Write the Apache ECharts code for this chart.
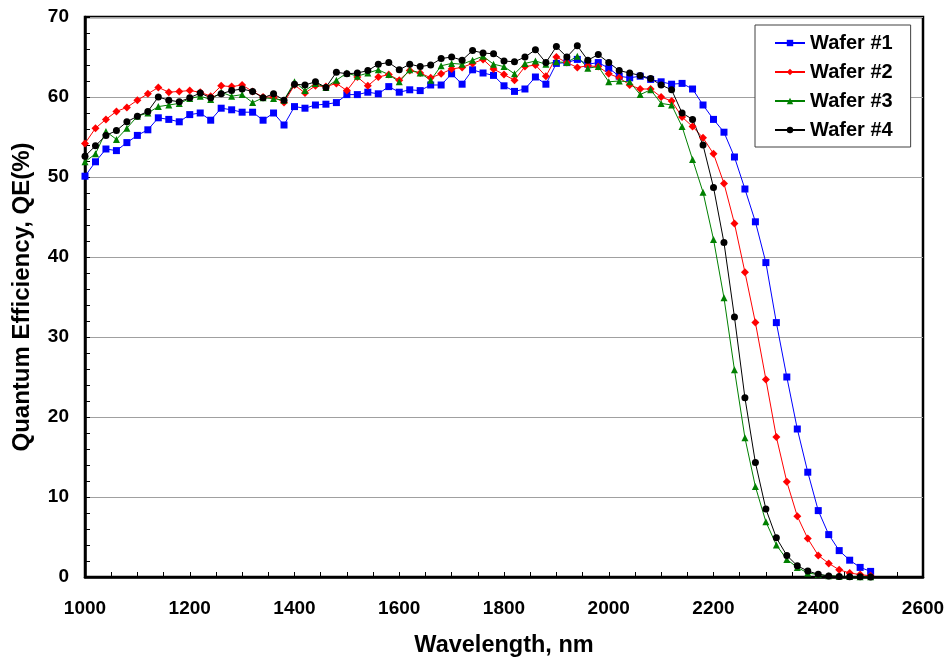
<!DOCTYPE html>
<html>
<head>
<meta charset="utf-8">
<script src="https://cdn.jsdelivr.net/npm/echarts@6/dist/echarts.min.js"></script>
<style>
html,body{margin:0;padding:0;background:#fff;}
#chart{width:950px;height:662px;}
</style>
</head>
<body>
<div id="chart"></div>
<script>
const wavelengths = [1000,1020,1040,1060,1080,1100,1120,1140,1160,1180,1200,1220,1240,1260,1280,1300,1320,1340,1360,1380,
1400,1420,1440,1460,1480,1500,1520,1540,1560,1580,1600,1620,1640,1660,1680,1700,1720,1740,1760,1780,
1800,1820,1840,1860,1880,1900,1920,1940,1960,1980,2000,2020,2040,2060,2080,2100,2120,2140,2160,2180,
2200,2220,2240,2260,2280,2300,2320,2340,2360,2380,2400,2420,2440,2460,2480,2500];

const wafer1 = [50.1,51.9,53.5,53.3,54.3,55.2,55.9,57.4,57.2,56.9,57.8,58.0,57.1,58.6,58.4,58.1,58.1,57.1,58.0,56.5,
58.8,58.6,59.0,59.1,59.3,60.3,60.3,60.6,60.4,61.3,60.6,60.9,60.8,61.5,61.5,62.9,61.6,63.4,63.0,62.7,
61.4,60.7,61.0,62.5,61.6,64.2,64.3,64.7,64.1,64.3,63.6,62.6,62.4,62.6,62.2,61.9,61.6,61.7,61.0,59.0,
57.2,55.6,52.5,48.5,44.4,39.3,31.8,25.0,18.5,13.1,8.3,5.3,3.3,2.1,1.2,0.7];

const wafer2 = [54.2,56.1,57.2,58.2,58.7,59.6,60.4,61.2,60.6,60.7,60.8,60.6,60.1,61.4,61.3,61.5,60.7,60.0,60.0,59.3,
61.5,60.5,61.4,61.3,61.7,60.8,62.5,61.4,62.5,62.8,62.1,63.3,63.0,62.4,62.9,63.5,63.7,64.2,64.7,63.5,
62.8,62.1,63.8,64.0,62.6,65.0,64.3,63.7,63.9,63.8,62.9,62.4,61.5,61.0,61.0,60.0,59.5,57.5,56.3,54.9,
52.9,49.2,44.2,38.1,31.8,24.7,17.5,11.9,7.6,4.8,2.7,1.7,0.9,0.5,0.3,0.15];

const wafer3 = [51.9,52.9,55.7,54.7,56.1,57.6,58.0,58.8,59.0,59.2,59.8,60.1,59.7,60.6,60.1,60.3,59.3,59.9,59.8,59.6,
61.9,60.8,61.7,61.2,62.1,63.0,62.6,63.0,63.4,62.8,61.9,63.4,63.0,62.1,63.9,64.2,64.1,64.6,65.1,64.1,
63.8,62.9,64.2,64.5,64.1,64.4,64.3,65.1,63.6,63.8,61.9,62.0,61.9,60.3,60.9,59.2,59.0,56.3,52.2,48.1,
42.2,34.9,25.9,17.4,11.3,6.9,4.0,2.2,1.2,0.5,0.3,0.15,0.1,0.05,0.03,0.02];

const wafer4 = [52.6,53.9,55.2,55.8,56.9,57.6,58.2,60.0,59.6,59.4,59.9,60.5,59.9,60.4,60.8,61.0,60.7,59.9,60.4,59.6,
61.6,61.5,61.9,61.2,63.1,62.9,63.0,63.3,64.1,64.3,63.4,64.1,63.8,64.0,64.8,65.0,64.6,65.8,65.5,65.4,
64.5,64.4,65.0,65.9,64.3,66.3,65.0,66.4,64.6,65.3,64.3,63.3,63.0,62.7,62.3,61.5,60.9,58.0,57.2,54.0,
48.7,41.8,32.5,22.4,14.3,8.5,4.9,2.7,1.4,0.75,0.34,0.13,0.06,0.03,0.02,0.01];

const seriesNames = ['Wafer #1','Wafer #2','Wafer #3','Wafer #4'];
const seriesColors = ['#0000ff','#ff0000','#008000','#000000'];
const seriesSymbols = ['rect','diamond','triangle','circle'];
const seriesSizes = [7,8,7,7];
const seriesValues = [wafer1, wafer2, wafer3, wafer4];

const xTicks = [1000,1200,1400,1600,1800,2000,2200,2400,2600];
const yTicks = [0,10,20,30,40,50,60,70];

const FONT = '"Liberation Sans", Arial, sans-serif';

const chart = echarts.init(document.getElementById('chart'), null, {renderer:'canvas'});

const series = seriesValues.map((vals, i) => ({
  name: seriesNames[i],
  type: 'line',
  data: wavelengths.map((w, j) => [w, vals[j]]),
  symbol: seriesSymbols[i],
  symbolSize: seriesSizes[i],
  showAllSymbol: true,
  lineStyle: {color: seriesColors[i], width: 1},
  itemStyle: {color: seriesColors[i], borderWidth: 0},
  animation: false,
  z: 3
}));

chart.setOption({
  animation: false,
  backgroundColor: '#ffffff',
  grid: {
    left: 85, right: 27, top: 17, bottom: 85,
    containLabel: false,
    outerBoundsMode: 'none',
    show: true, borderColor: '#000', borderWidth: 2.5, backgroundColor: 'transparent'
  },
  legend: {
    orient: 'vertical',
    left: 755, top: 25,
    padding: [8, 18, 7, 19],
    itemGap: 9,
    itemWidth: 30, itemHeight: 8,
    backgroundColor: '#fff',
    borderColor: '#404040', borderWidth: 1,
    textStyle: {fontFamily: FONT, fontWeight: 'bold', fontSize: 20, color: '#000'},
    data: seriesNames
  },
  xAxis: {
    type: 'value',
    min: xTicks[0], max: xTicks[xTicks.length-1], interval: 200,
    name: 'Wavelength, nm',
    nameLocation: 'middle',
    nameGap: 57,
    nameTextStyle: {fontFamily: FONT, fontWeight: 'bold', fontSize: 23.5, color: '#000'},
    axisLine: {show: true, onZero: false, lineStyle: {color: '#000', width: 2.5}},
    axisTick: {show: true, inside: true, length: 5, lineStyle: {color: '#000', width: 1}},
    minorTick: {show: true, splitNumber: 4, length: 5, lineStyle: {color: '#000', width: 1}},
    axisLabel: {fontFamily: FONT, fontWeight: 'bold', fontSize: 19, color: '#000', margin: 22,
      formatter: v => String(v)},
    splitLine: {show: false}
  },
  yAxis: {
    type: 'value',
    min: yTicks[0], max: yTicks[yTicks.length-1], interval: 10,
    name: 'Quantum Efficiency, QE(%)',
    nameLocation: 'middle',
    nameGap: 51,
    nameTextStyle: {fontFamily: FONT, fontWeight: 'bold', fontSize: 24, color: '#000'},
    axisLine: {show: true, lineStyle: {color: '#000', width: 2.5}},
    axisTick: {show: true, inside: true, length: 5, lineStyle: {color: '#000', width: 1}},
    minorTick: {show: true, splitNumber: 5, length: 5, lineStyle: {color: '#000', width: 1}},
    axisLabel: {fontFamily: FONT, fontWeight: 'bold', fontSize: 19, color: '#000', margin: 16,
      formatter: v => String(v)},
    splitLine: {show: true, lineStyle: {color: '#a0a0a0', width: 1}}
  },
  series: series
});
</script>
</body>
</html>
